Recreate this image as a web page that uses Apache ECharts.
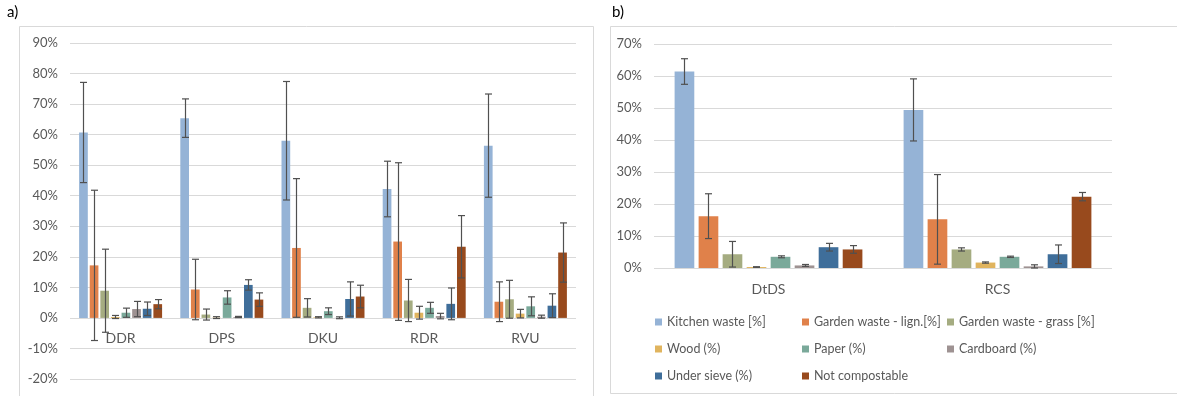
<!DOCTYPE html>
<html>
<head>
<meta charset="utf-8">
<script src="https://cdn.jsdelivr.net/npm/echarts@6/dist/echarts.min.js"></script>
<style>
html,body{margin:0;padding:0;background:#fff;}
#c{width:1177px;height:396px;}
</style>
</head>
<body>
<div id="c"></div>
<script>
// ---- data ----
const seriesNames = ['Kitchen waste [%]', 'Garden waste - lign.[%]', 'Garden waste - grass [%]', 'Wood (%)', 'Paper (%)', 'Cardboard (%)', 'Under sieve (%)', 'Not compostable'];
const seriesColors = ['#95b3d6', '#e0814a', '#a5ac81', '#e0b45e', '#7aa99a', '#9e9292', '#3f6e9a', '#984a1d'];

const categoriesA = ['DDR', 'DPS', 'DKU', 'RDR', 'RVU'];
const yTicksA = [-20, -10, 0, 10, 20, 30, 40, 50, 60, 70, 80, 90];
// values in % per category, order as seriesNames
const valuesDDR = [60.7, 17.2, 8.9, 0.3, 1.7, 2.9, 3.0, 4.5];
const errDDR    = [16.4, 24.6, 13.6, 0.5, 1.5, 2.5, 2.2, 1.5];
const valuesDPS = [65.4, 9.3, 1.1, 0.1, 6.7, 0.3, 10.8, 6.0];
const errDPS    = [6.3, 9.9, 1.8, 0.3, 2.2, 0.2, 1.7, 2.2];
const valuesDKU = [58.0, 22.9, 3.3, 0.2, 2.2, 0.05, 6.2, 7.0];
const errDKU    = [19.4, 22.7, 3.0, 0.2, 1.1, 0.3, 5.6, 3.7];
const valuesRDR = [42.2, 25.0, 5.7, 1.7, 3.3, 0.6, 4.6, 23.3];
const errRDR    = [9.1, 25.8, 6.9, 2.1, 1.8, 0.9, 5.2, 10.2];
const valuesRVU = [56.4, 5.3, 6.1, 1.4, 3.8, 0.4, 4.0, 21.4];
const errRVU    = [16.9, 6.5, 6.2, 1.4, 3.1, 0.5, 3.9, 9.7];

const categoriesB = ['DtDS', 'RCS'];
const yTicksB = [0, 10, 20, 30, 40, 50, 60, 70];
const valuesDtDS = [61.4, 16.2, 4.3, 0.3, 3.5, 0.8, 6.5, 5.8];
const errDtDS    = [4.0, 7.0, 4.0, 0.1, 0.3, 0.3, 1.2, 1.2];
const valuesRCS  = [49.4, 15.2, 5.8, 1.7, 3.5, 0.5, 4.3, 22.3];
const errRCS     = [9.7, 14.0, 0.5, 0.2, 0.2, 0.5, 2.9, 1.3];

// ---- build ----
const valsA = [valuesDDR, valuesDPS, valuesDKU, valuesRDR, valuesRVU];
const errsA = [errDDR, errDPS, errDKU, errRDR, errRVU];
const valsB = [valuesDtDS, valuesRCS];
const errsB = [errDtDS, errRCS];

const CAT_GAP = 0.18, BAR_GAP = 0.22, N = seriesNames.length;
const FONT = 'Lato, "Open Sans", sans-serif';
const GRAY = '#595959';

function errRender(sIdx) {
  return function (params, api) {
    const cat = api.value(0);
    const lo = api.value(1), hi = api.value(2);
    const band = api.size([1, 0])[0];
    const remain = band * (1 - CAT_GAP);
    const w = remain / (N + (N - 1) * BAR_GAP);
    const off = -remain / 2 + sIdx * w * (1 + BAR_GAP) + w / 2;
    const pHi = api.coord([cat, hi]);
    const pLo = api.coord([cat, lo]);
    const x = Math.round(pHi[0] + off) + 0.5;
    const cap = 3.5;
    const st = { stroke: '#505050', lineWidth: 1.2 };
    return {
      type: 'group',
      children: [
        { type: 'line', shape: { x1: x, y1: pHi[1], x2: x, y2: pLo[1] }, style: st },
        { type: 'line', shape: { x1: x - cap, y1: pHi[1], x2: x + cap, y2: pHi[1] }, style: st },
        { type: 'line', shape: { x1: x - cap, y1: pLo[1], x2: x + cap, y2: pLo[1] }, style: st }
      ]
    };
  };
}

const series = [];
function addPanel(vals, errs, axisIdx) {
  for (let s = 0; s < N; s++) {
    series.push({
      name: seriesNames[s],
      type: 'bar',
      xAxisIndex: axisIdx, yAxisIndex: axisIdx,
      barCategoryGap: (CAT_GAP * 100) + '%',
      barGap: (BAR_GAP * 100) + '%',
      itemStyle: { color: seriesColors[s] },
      emphasis: { disabled: true },
      data: vals.map(v => v[s])
    });
  }
  for (let s = 0; s < N; s++) {
    series.push({
      name: 'err' + axisIdx + '_' + s,
      type: 'custom',
      xAxisIndex: axisIdx, yAxisIndex: axisIdx,
      z: 5,
      renderItem: errRender(s),
      data: vals.map((v, c) => [c, v[s] - errs[c][s], v[s] + errs[c][s]])
    });
  }
}
addPanel(valsA, errsA, 0);
addPanel(valsB, errsB, 1);

function yAxis(ticks, gridIdx) {
  return {
    type: 'value', gridIndex: gridIdx,
    min: ticks[0], max: ticks[ticks.length - 1], interval: ticks[1] - ticks[0],
    axisLine: { show: false }, axisTick: { show: false },
    axisLabel: { formatter: '{value}%', color: GRAY, fontSize: 13, fontFamily: FONT, margin: 12 },
    splitLine: { lineStyle: { color: '#d9d9d9', width: 1 } }
  };
}
// offset moves the category axis up to the 0% line of its grid
function xAxis(cats, gridIdx, offset) {
  return {
    type: 'category', gridIndex: gridIdx, data: cats,
    offset: offset,
    axisLine: { show: false, onZero: false },
    axisTick: { show: false },
    axisLabel: { color: GRAY, fontSize: 14, fontFamily: FONT, margin: 14 }
  };
}
function legend(names, left) {
  return {
    orient: 'vertical', left: left, top: 315, padding: 0,
    itemWidth: 7, itemHeight: 7, itemGap: 13, icon: 'rect',
    selectedMode: false,
    textStyle: { color: GRAY, fontSize: 12.5, fontFamily: FONT, lineHeight: 14 },
    data: names
  };
}

const GRID_A_H = 336;
const zeroOffsetA = -GRID_A_H * (0 - yTicksA[0]) / (yTicksA[yTicksA.length - 1] - yTicksA[0]);

const chart = echarts.init(document.getElementById('c'), null, { renderer: 'canvas' });
chart.setOption({
  animation: false,
  backgroundColor: '#fff',
  title: [
    { text: 'a)', left: 7, top: 5, padding: 0, textStyle: { fontSize: 15, fontWeight: 'normal', color: '#000', fontFamily: FONT } },
    { text: 'b)', left: 612, top: 5, padding: 0, textStyle: { fontSize: 15, fontWeight: 'normal', color: '#000', fontFamily: FONT } }
  ],
  graphic: [
    { type: 'rect', shape: { x: 19.5, y: 26.5, width: 574, height: 400 }, style: { fill: 'none', stroke: '#d9d9d9', lineWidth: 1 }, silent: true },
    { type: 'rect', shape: { x: 610.5, y: 26.5, width: 600, height: 367 }, style: { fill: 'none', stroke: '#d9d9d9', lineWidth: 1 }, silent: true }
  ],
  grid: [
    { left: 70, right: 601, top: 43, height: GRID_A_H },
    { left: 654, right: 65, top: 44, height: 224 }
  ],
  xAxis: [xAxis(categoriesA, 0, zeroOffsetA), xAxis(categoriesB, 1, 0)],
  yAxis: [yAxis(yTicksA, 0), yAxis(yTicksB, 1)],
  legend: [
    legend([seriesNames[0], seriesNames[3], seriesNames[6]], 655),
    legend([seriesNames[1], seriesNames[4], seriesNames[7]], 802),
    legend([seriesNames[2], seriesNames[5]], 947)
  ],
  series: series
});
</script>
</body>
</html>
